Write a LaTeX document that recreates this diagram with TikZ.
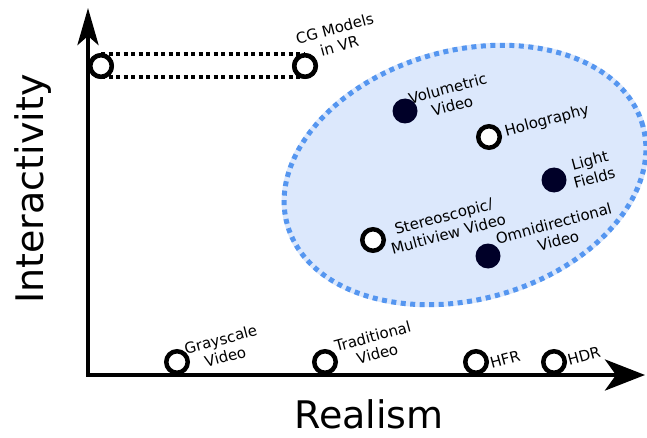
\documentclass[tikz,border=0pt]{standalone}
\usepackage{fontspec}
\setmainfont{DejaVu Sans}
\usetikzlibrary{arrows.meta}
\definecolor{navy}{RGB}{0,0,40}
\definecolor{ellfill}{RGB}{220,232,252}
\definecolor{elldash}{RGB}{85,150,240}
\begin{document}
\begin{tikzpicture}[x=1pt,y=1pt,
  opendot/.style={circle,draw=black,line width=4.5pt,fill=white,minimum size=21.5pt,inner sep=0pt},
  fulldot/.style={circle,fill=navy,minimum size=25pt,inner sep=0pt},
  lbl/.style={rotate=15,align=center,inner sep=0pt,font=\fontsize{15}{18}\selectfont},
  axlbl/.style={inner sep=0pt,font=\fontsize{38}{42}\selectfont},
  axis/.style={line width=4.5pt},
  dotline/.style={line width=4.5pt,dash pattern=on 4pt off 3.5pt}
]
\useasboundingbox (0,0) rectangle (647,437);
% region
\fill[ellfill,rotate around={15.5:(465,262)}] (465,262) ellipse (187 and 127);
\draw[elldash,line width=5pt,dash pattern=on 5pt off 4.5pt,rotate around={15.5:(465,262)}] (465,262) ellipse (184.5 and 124.5);
% coordinates for axes
\coordinate (O) at (88,62);
\coordinate (ytip) at (88,429);
\coordinate (xtip) at (645,62);
% CG models nodes and dotted box
\node[opendot] (cgA) at (101,371) {};
\node[opendot] (cgB) at (305,371) {};
\draw[dotline] ([yshift=12pt]cgA.center) -- ([yshift=12pt]cgB.center);
\draw[dotline] ([yshift=-11pt]cgA.center) -- ([yshift=-11pt]cgB.center);
% axes
\draw[axis,-{Stealth[length=37pt,width=21pt,inset=9pt]}] (O) -- (ytip);
\draw[axis,-{Stealth[length=40pt,width=31pt,inset=11pt]}] ([xshift=-2pt]O) -- (xtip);
% redraw CG circles on top
\node[opendot] (cgA2) at (cgA) {};
\node[opendot] (cgB2) at (cgB) {};
% points
\node[fulldot] (vol) at (405,326) {};
\node[opendot] (holo) at (489,300) {};
\node[fulldot] (light) at (554,257) {};
\node[opendot] (stereo) at (373,197) {};
\node[fulldot] (omni) at (488,181) {};
\node[opendot] (gray) at (177,75) {};
\node[opendot] (trad) at (325,75) {};
\node[opendot] (hfr) at (476,75) {};
\node[opendot] (hdr) at (554,75) {};
% labels
\node[lbl] (tcg) at (337,400) {CG Models\\in VR};
\node[lbl] (tvol) at (450,340) {Volumetric\\Video};
\node[lbl] (tholo) at (547,316) {Holography};
\node[lbl] (tlight) at (592,268) {Light\\Fields};
\node[lbl] (tstereo) at (446,212) {Stereoscopic/\\Multiview Video};
\node[lbl] (tomni) at (556,205) {Omnidirectional\\Video};
\node[lbl] (tgray) at (223,89) {Grayscale\\Video};
\node[lbl] (ttrad) at (375,92) {Traditional\\Video};
\node[lbl] (thfr) at (505,78) {HFR};
\node[lbl] (thdr) at (584,81) {HDR};
% axis labels
\node[axlbl] (xl) at (369,23) {Realism};
\node[axlbl,rotate=90] (yl) at (33,248) {Interactivity};
\end{tikzpicture}
\end{document}
